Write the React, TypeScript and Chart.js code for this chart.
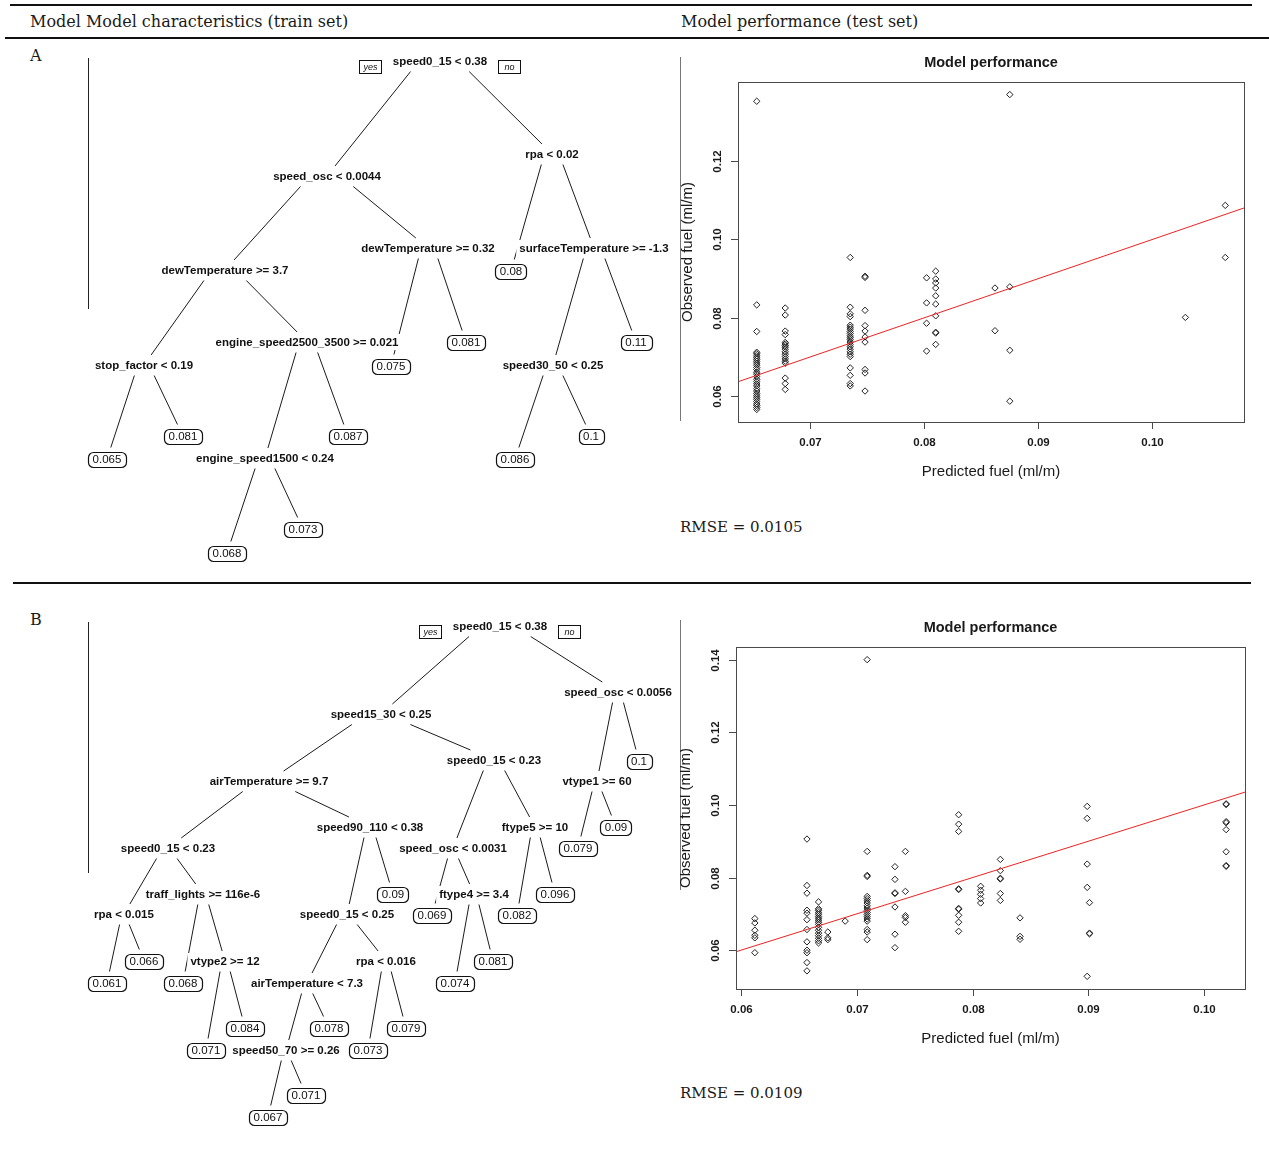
import React, { useEffect, useRef } from "react";
import { Chart, registerables } from "chart.js";

Chart.register(...registerables);

const SANS = '"Liberation Sans", Arial, sans-serif';
const SERIF = '"DejaVu Serif", serif';

// ---------------- Panel A : test-set scatter ----------------
const predictedA = [0.0653, 0.0678, 0.0735, 0.0748, 0.0802, 0.081, 0.0862, 0.0875, 0.1029, 0.1064];
const observedA: number[][] = [
  [0.1353, 0.0833, 0.0765, 0.0712, 0.0708, 0.0703, 0.0698, 0.0694, 0.0689, 0.0684, 0.0679, 0.0673, 0.0668, 0.0661, 0.0656, 0.065, 0.0643, 0.0637, 0.0631, 0.0626, 0.0619, 0.0613, 0.0607, 0.0602, 0.0597, 0.0592, 0.0586, 0.058, 0.0576, 0.0571, 0.0566],
  [0.0825, 0.0807, 0.0766, 0.0757, 0.0737, 0.0733, 0.0729, 0.0725, 0.072, 0.0713, 0.0707, 0.0701, 0.0695, 0.0689, 0.0684, 0.0646, 0.0632, 0.0617],
  [0.0954, 0.0827, 0.081, 0.0803, 0.0781, 0.0776, 0.0771, 0.0765, 0.076, 0.0754, 0.0749, 0.0744, 0.0738, 0.0732, 0.0726, 0.072, 0.0713, 0.0707, 0.0701, 0.0672, 0.0653, 0.0632, 0.0626],
  [0.0906, 0.0903, 0.0819, 0.078, 0.0766, 0.0751, 0.0738, 0.0668, 0.0659, 0.0613],
  [0.0902, 0.0838, 0.0786, 0.0715],
  [0.0919, 0.0899, 0.0889, 0.0876, 0.0856, 0.0835, 0.0805, 0.0763, 0.0761, 0.0732],
  [0.0876, 0.0767],
  [0.137, 0.0879, 0.0717, 0.0587],
  [0.0801],
  [0.1087, 0.0954],
];
const xTicksA = [0.07, 0.08, 0.09, 0.1];
const yTicksA = [0.06, 0.08, 0.1, 0.12];
const rmseA = "0.0105";

// ---------------- Panel B : test-set scatter ----------------
const predictedB = [0.0612, 0.0657, 0.0667, 0.0675, 0.069, 0.0709, 0.0733, 0.0742, 0.0788, 0.0807, 0.0824, 0.0841, 0.0899, 0.0901, 0.1019];
const observedB: number[][] = [
  [0.0687, 0.0675, 0.0655, 0.0641, 0.0634, 0.0593],
  [0.0906, 0.0778, 0.0757, 0.071, 0.0702, 0.0684, 0.0657, 0.0623, 0.06, 0.0593, 0.0566, 0.0543],
  [0.0733, 0.0714, 0.071, 0.0704, 0.0699, 0.0693, 0.0688, 0.0683, 0.0677, 0.0671, 0.0663, 0.0655, 0.0647, 0.064, 0.0633, 0.0626, 0.062],
  [0.065, 0.0634, 0.0629],
  [0.068],
  [0.14, 0.0872, 0.0806, 0.0803, 0.0748, 0.0742, 0.0736, 0.073, 0.0722, 0.0716, 0.071, 0.0704, 0.0698, 0.0692, 0.0686, 0.068, 0.0657, 0.065, 0.0629],
  [0.083, 0.0795, 0.0758, 0.0756, 0.0719, 0.0644, 0.0607],
  [0.0872, 0.0762, 0.0695, 0.069, 0.0677],
  [0.0973, 0.0947, 0.0927, 0.0769, 0.0767, 0.0715, 0.0713, 0.0696, 0.0677, 0.0652],
  [0.0776, 0.0765, 0.0754, 0.0742, 0.073],
  [0.085, 0.0819, 0.0798, 0.0796, 0.0756, 0.0737],
  [0.0689, 0.0638, 0.063],
  [0.0996, 0.0963, 0.0837, 0.0773, 0.0528],
  [0.0731, 0.0647, 0.0645],
  [0.1003, 0.1001, 0.0954, 0.0951, 0.0932, 0.0871, 0.0833, 0.0831],
];
const xTicksB = [0.06, 0.07, 0.08, 0.09, 0.1];
const yTicksB = [0.06, 0.08, 0.1, 0.12, 0.14];
const rmseB = "0.0109";

// ---------------- Tree A (train set) ----------------
const treeALabels = [
  "speed0_15 < 0.38", "speed_osc < 0.0044", "rpa < 0.02", "dewTemperature >= 3.7",
  "dewTemperature >= 0.32", "0.08", "surfaceTemperature >= -1.3", "stop_factor < 0.19",
  "engine_speed2500_3500 >= 0.021", "0.075", "0.081", "speed30_50 < 0.25", "0.11",
  "0.065", "0.081", "engine_speed1500 < 0.24", "0.087", "0.086", "0.1", "0.068", "0.073",
];
const treeAParents = [-1, 0, 0, 1, 1, 2, 2, 3, 3, 4, 4, 6, 6, 7, 7, 8, 8, 11, 11, 15, 15];
// layout (page pixels)
const treeAPosX = [440, 327, 552, 225, 428, 511, 594, 144, 307, 391, 466, 553, 636, 107, 183, 265, 348, 515, 591, 227, 303];
const treeAPosY = [61, 176, 154, 270, 248, 271, 248, 365, 342, 366, 342, 365, 342, 459, 436, 458, 436, 459, 436, 553, 529];

// ---------------- Tree B (train set) ----------------
const treeBLabels = [
  "speed0_15 < 0.38", "speed15_30 < 0.25", "speed_osc < 0.0056", "airTemperature >= 9.7",
  "speed0_15 < 0.23", "vtype1 >= 60", "0.1", "speed0_15 < 0.23", "speed90_110 < 0.38",
  "speed_osc < 0.0031", "ftype5 >= 10", "0.079", "0.09", "rpa < 0.015", "traff_lights >= 116e-6",
  "speed0_15 < 0.25", "0.09", "0.069", "ftype4 >= 3.4", "0.082", "0.096", "0.061", "0.066",
  "0.068", "vtype2 >= 12", "airTemperature < 7.3", "rpa < 0.016", "0.074", "0.081", "0.071",
  "0.084", "speed50_70 >= 0.26", "0.078", "0.073", "0.079", "0.067", "0.071",
];
const treeBParents = [-1, 0, 0, 1, 1, 2, 2, 3, 3, 4, 4, 5, 5, 7, 7, 8, 8, 9, 9, 10, 10, 13, 13, 14, 14, 15, 15, 18, 18, 24, 24, 25, 25, 26, 26, 31, 31];
const treeBPosX = [500, 381, 618, 269, 494, 597, 639, 168, 370, 453, 535, 578, 616, 124, 203, 347, 393, 432, 474, 517, 555, 107, 144, 183, 225, 307, 386, 455, 493, 206, 245, 286, 329, 368, 406, 268, 306];
const treeBPosY = [626, 714, 692, 781, 760, 781, 761, 848, 827, 848, 827, 848, 827, 914, 894, 914, 894, 915, 894, 915, 894, 983, 961, 983, 961, 983, 961, 983, 961, 1050, 1028, 1050, 1028, 1050, 1028, 1117, 1095];

function TreeChart(props: {
  labels: string[]; parents: number[]; posX: number[]; posY: number[];
  left: number; top: number; width: number; height: number;
}) {
  const ref = useRef<HTMLCanvasElement>(null);
  useEffect(() => {
    const { labels, parents, posX, posY, left, top, width, height } = props;
    const n = labels.length;
    const hasChild = new Array(n).fill(false);
    parents.forEach((p) => { if (p >= 0) hasChild[p] = true; });
    const datasets: any[] = [];
    for (let i = 0; i < n; i++) {
      const p = parents[i];
      if (p < 0) continue;
      const px = posX[p], py = posY[p], cx = posX[i], cy = posY[i];
      const sx = px + 0.26 * (cx - px);
      const sy = py + 10.5;
      const ey = cy - (hasChild[i] ? 10 : 11.5);
      const t = (ey - sy) / (cy - sy);
      const ex = sx + (cx - sx) * t;
      datasets.push({
        data: [{ x: sx, y: sy }, { x: ex, y: ey }],
        showLine: true, borderColor: "#1a1a1a", borderWidth: 1,
        pointRadius: 0, pointHoverRadius: 0,
      });
    }
    const labelPlugin = {
      id: "treeLabels",
      afterDatasetsDraw(chart: any) {
        const ctx = chart.ctx as CanvasRenderingContext2D;
        const xs = chart.scales.x, ys = chart.scales.y;
        ctx.save();
        ctx.textAlign = "center";
        ctx.textBaseline = "middle";
        for (let i = 0; i < n; i++) {
          const X = xs.getPixelForValue(posX[i]);
          const Y = ys.getPixelForValue(posY[i]);
          if (hasChild[i]) {
            ctx.font = `bold 11.5px ${SANS}`;
            const w = ctx.measureText(labels[i]).width;
            ctx.fillStyle = "#fff";
            ctx.fillRect(X - w / 2 - 3, Y - 8, w + 6, 16);
            ctx.fillStyle = "#111";
            ctx.fillText(labels[i], X, Y + 0.5);
          } else {
            ctx.font = `11.5px ${SANS}`;
            const w = ctx.measureText(labels[i]).width;
            const bw = w + 9, bh = 15;
            ctx.beginPath();
            (ctx as any).roundRect(Math.round(X - bw / 2) + 0.5, Math.round(Y - bh / 2) + 0.5, Math.round(bw), bh, 5);
            ctx.fillStyle = "#fff";
            ctx.fill();
            ctx.strokeStyle = "#111";
            ctx.lineWidth = 1.2;
            ctx.stroke();
            ctx.fillStyle = "#111";
            ctx.fillText(labels[i], X, Y + 0.5);
          }
        }
        // yes / no tags beside the root split
        const rx = xs.getPixelForValue(posX[0]);
        const ry = ys.getPixelForValue(posY[0]);
        const tags: [string, number][] = [["yes", -70], ["no", 69]];
        ctx.font = `italic 9px ${SANS}`;
        ctx.lineWidth = 1;
        tags.forEach(([t, dx]) => {
          const cxp = Math.round(rx + dx), cyp = Math.round(ry + 5);
          ctx.fillStyle = "#fff";
          ctx.fillRect(cxp - 11, cyp - 6, 22, 13);
          ctx.strokeStyle = "#111";
          ctx.strokeRect(cxp - 11 + 0.5, cyp - 6 + 0.5, 22, 13);
          ctx.fillStyle = "#111";
          ctx.fillText(t, cxp + 0.5, cyp + 1);
        });
        ctx.restore();
      },
    };
    const chart = new Chart(ref.current!, {
      type: "scatter",
      data: { datasets },
      options: {
        responsive: false,
        animation: false,
        devicePixelRatio: 1,
        events: [],
        layout: { padding: 0 },
        plugins: { legend: { display: false }, tooltip: { enabled: false } },
        scales: {
          x: { type: "linear", min: left, max: left + width, display: false },
          y: { type: "linear", min: top, max: top + height, reverse: true, display: false },
        },
      },
      plugins: [labelPlugin],
    } as any);
    return () => chart.destroy();
  }, []);
  return (
    <canvas
      ref={ref}
      width={props.width}
      height={props.height}
      style={{ position: "absolute", left: props.left, top: props.top, width: props.width, height: props.height }}
    />
  );
}

function paddedRange(v: number[]): [number, number] {
  const lo = Math.min(...v), hi = Math.max(...v);
  const p = (hi - lo) * 0.04;
  return [lo - p, hi + p];
}

function ScatterChart(props: {
  predicted: number[]; observed: number[][]; xTicks: number[]; yTicks: number[];
  left: number; top: number; width: number; height: number;
  pad: { left: number; right: number; top: number; bottom: number }; yLabelOffset: number;
}) {
  const ref = useRef<HTMLCanvasElement>(null);
  useEffect(() => {
    const { predicted, observed, xTicks, yTicks, pad, yLabelOffset } = props;
    const pts: { x: number; y: number }[] = [];
    predicted.forEach((p, i) => observed[i].forEach((o) => pts.push({ x: p, y: o })));
    const xr = paddedRange(pts.map((d) => d.x));
    const yr = paddedRange(pts.map((d) => d.y));
    const axesPlugin = {
      id: "rAxes",
      afterDraw(chart: any) {
        const ctx = chart.ctx as CanvasRenderingContext2D;
        const a = chart.chartArea;
        const xs = chart.scales.x, ys = chart.scales.y;
        ctx.save();
        ctx.strokeStyle = "#4a4a4a";
        ctx.lineWidth = 1;
        ctx.strokeRect(Math.round(a.left) + 0.5, Math.round(a.top) + 0.5, Math.round(a.right - a.left), Math.round(a.bottom - a.top));
        ctx.fillStyle = "#1a1a1a";
        ctx.font = `bold 11.5px ${SANS}`;
        ctx.textAlign = "center";
        ctx.textBaseline = "middle";
        xTicks.forEach((t) => {
          const px = Math.round(xs.getPixelForValue(t)) + 0.5;
          ctx.beginPath();
          ctx.moveTo(px, Math.round(a.bottom));
          ctx.lineTo(px, Math.round(a.bottom) + 7);
          ctx.stroke();
          ctx.fillText(t.toFixed(2), px, a.bottom + 21);
        });
        yTicks.forEach((t) => {
          const py = Math.round(ys.getPixelForValue(t)) + 0.5;
          ctx.beginPath();
          ctx.moveTo(Math.round(a.left) - 7, py);
          ctx.lineTo(Math.round(a.left), py);
          ctx.stroke();
          ctx.save();
          ctx.translate(a.left - 20, py);
          ctx.rotate(-Math.PI / 2);
          ctx.fillText(t.toFixed(2), 0, 0);
          ctx.restore();
        });
        ctx.font = `15px ${SANS}`;
        ctx.fillText("Predicted fuel (ml/m)", (a.left + a.right) / 2, a.bottom + 50);
        ctx.save();
        ctx.translate(a.left - yLabelOffset, (a.top + a.bottom) / 2);
        ctx.rotate(-Math.PI / 2);
        ctx.fillText("Observed fuel (ml/m)", 0, 0);
        ctx.restore();
        ctx.font = `bold 14.5px ${SANS}`;
        ctx.fillText("Model performance", (a.left + a.right) / 2, a.top - 19);
        ctx.restore();
      },
    };
    const chart = new Chart(ref.current!, {
      type: "scatter",
      data: {
        datasets: [
          {
            data: [{ x: xr[0], y: xr[0] }, { x: xr[1], y: xr[1] }],
            showLine: true, borderColor: "#ee2222", borderWidth: 1, pointRadius: 0,
          },
          {
            data: pts,
            pointStyle: "rectRot", pointRadius: 3.2, borderWidth: 1,
            borderColor: "#222", backgroundColor: "rgba(0,0,0,0)",
          },
        ],
      },
      options: {
        responsive: false,
        animation: false,
        devicePixelRatio: 1,
        events: [],
        layout: { padding: pad },
        plugins: { legend: { display: false }, tooltip: { enabled: false } },
        scales: {
          x: { type: "linear", min: xr[0], max: xr[1], display: false },
          y: { type: "linear", min: yr[0], max: yr[1], display: false },
        },
      },
      plugins: [axesPlugin],
    } as any);
    return () => chart.destroy();
  }, []);
  return (
    <canvas
      ref={ref}
      width={props.width}
      height={props.height}
      style={{ position: "absolute", left: props.left, top: props.top, width: props.width, height: props.height }}
    />
  );
}

const abs = (l: number, t: number, w: number, h: number, bg: string): React.CSSProperties => ({
  position: "absolute", left: l, top: t, width: w, height: h, background: bg,
});

const serifText = (l: number, cy: number, size: number): React.CSSProperties => ({
  position: "absolute", left: l, top: cy - 12, height: 24, lineHeight: "24px",
  fontFamily: SERIF, fontSize: size, color: "#1a1a1a", whiteSpace: "nowrap",
});

export default function App() {
  return (
    <div style={{ position: "absolute", left: 0, top: 0, width: 1269, height: 1166, background: "#fff", overflow: "hidden" }}>
      {/* table rules */}
      <div style={abs(10, 4, 1242, 2, "#111")} />
      <div style={abs(5, 37, 1264, 2, "#111")} />
      <div style={abs(13, 582, 1238, 2, "#111")} />
      {/* header */}
      <div style={serifText(30, 22, 16)}>Model Model characteristics (train set)</div>
      <div style={serifText(681, 22, 16)}>Model performance (test set)</div>
      <div style={serifText(30, 56, 16)}>A</div>
      <div style={serifText(30, 620, 16)}>B</div>
      {/* stray image borders */}
      <div style={abs(88, 58, 1, 251, "#222")} />
      <div style={abs(88, 622, 1, 251, "#222")} />
      <div style={abs(680, 57, 1, 364, "#777")} />
      <div style={abs(680, 620, 1, 270, "#777")} />

      <TreeChart labels={treeALabels} parents={treeAParents} posX={treeAPosX} posY={treeAPosY}
        left={0} top={40} width={678} height={540} />
      <ScatterChart predicted={predictedA} observed={observedA} xTicks={xTicksA} yTicks={yTicksA}
        left={680} top={40} width={580} height={470}
        pad={{ left: 58, right: 16, top: 42, bottom: 88 }} yLabelOffset={50.5} />
      <div style={serifText(680, 527, 15)}>RMSE = {rmseA}</div>

      <TreeChart labels={treeBLabels} parents={treeBParents} posX={treeBPosX} posY={treeBPosY}
        left={0} top={595} width={678} height={545} />
      <ScatterChart predicted={predictedB} observed={observedB} xTicks={xTicksB} yTicks={yTicksB}
        left={680} top={605} width={580} height={460}
        pad={{ left: 56, right: 15, top: 42, bottom: 76 }} yLabelOffset={50} />
      <div style={serifText(680, 1093, 15)}>RMSE = {rmseB}</div>
    </div>
  );
}
